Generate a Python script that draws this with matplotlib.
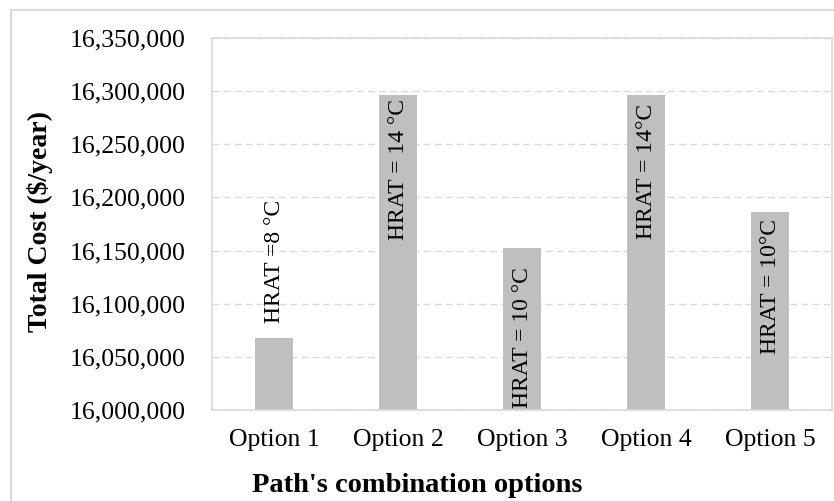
import matplotlib
matplotlib.use('agg')
import matplotlib.pyplot as plt
from matplotlib.patches import Rectangle
from matplotlib.ticker import FuncFormatter

options = ['Option 1', 'Option 2', 'Option 3', 'Option 4', 'Option 5']
total_cost = [16068000, 16296000, 16152000, 16296000, 16186000]
hrat_labels = ['HRAT =8 °C', 'HRAT = 14 °C', 'HRAT = 10 °C', 'HRAT = 14°C', 'HRAT = 10°C']

plt.rcParams['font.family'] = ['Liberation Serif', 'DejaVu Serif']
grey = '#d9d9d9'

fig = plt.figure(figsize=(8.34, 5.01), dpi=100)
ax = fig.add_axes([212/834, 91/501, 620/834, 372/501])

x = list(range(len(options)))
ax.bar(x, total_cost, width=0.31, color='#bfbfbf', zorder=2)
ax.set_xlim(-0.5, len(options) - 0.5)
ax.set_ylim(16000000, 16350000)
ax.set_yticks(range(16000000, 16350001, 50000))
ax.yaxis.set_major_formatter(FuncFormatter(lambda v, p: '{:,.0f}'.format(v)))
ax.set_xticks(x)
ax.set_xticklabels(options)
ax.tick_params(axis='both', length=0, labelsize=18.5, colors='black')
ax.tick_params(axis='y', pad=19)
ax.tick_params(axis='x', pad=14)
ax.yaxis.grid(True, color=grey, linestyle=(0, (5, 3)), linewidth=1)
ax.set_axisbelow(True)
for s in ax.spines.values():
    s.set_color(grey)
    s.set_linewidth(1.2)

# rotated labels on the bars
label_pos = [(16082000, 'bottom'), (16293000, 'top'), (16002000, 'bottom'),
             (16288000, 'top'), (16180000, 'top')]
for i, (txt, (yp, va)) in enumerate(zip(hrat_labels, label_pos)):
    ax.text(i, yp, txt, rotation=90, ha='center', va=va, fontsize=17, zorder=3)

fig.text(40/834, 1 - 222/501, 'Total Cost ($/year)', rotation=90, ha='center',
         va='center', fontsize=20, fontweight='bold')
fig.text(0.5, 0.03, "Path's combination options", ha='center', va='center',
         fontsize=20.5, fontweight='bold')

# outer chart border
fig.patches.append(Rectangle((11/834, -0.1), 1.2, (501 - 10)/501 + 0.1,
                             transform=fig.transFigure, fill=False,
                             edgecolor=grey, linewidth=1.5))

fig.savefig('out.png', dpi=100)
